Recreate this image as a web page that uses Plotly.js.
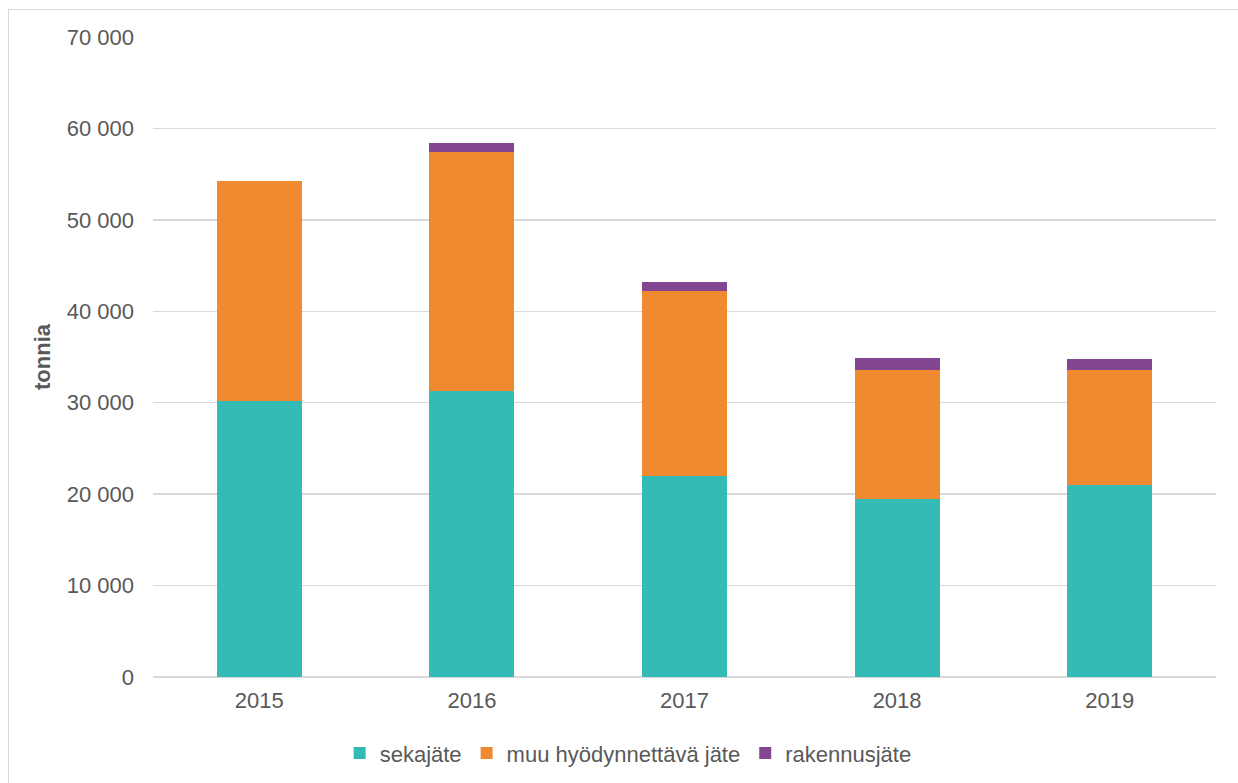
<!DOCTYPE html>
<html>
<head>
<meta charset="utf-8">
<script src="https://cdn.plot.ly/plotly-3.0.1.min.js"></script>
<style>
html,body{margin:0;padding:0;background:#fff;}
#wrap{position:relative;width:1238px;height:783px;}
#chart{width:1238px;height:783px;}
#frame{position:absolute;left:8px;top:9px;right:-5px;bottom:-5px;border-left:1.5px solid #d9d9d9;border-top:1.5px solid #d9d9d9;pointer-events:none;}
</style>
</head>
<body>
<div id="wrap"><div id="chart"></div><div id="frame"></div></div>
<script>
const years = ['2015', '2016', '2017', '2018', '2019'];
const sekajate = [30200, 31300, 21950, 19500, 20950];
const muuHyodynnettava = [24050, 26120, 20270, 14080, 12630];
const rakennusjate = [0, 990, 985, 1280, 1170];
const seriesNames = ['sekajäte', 'muu hyödynnettävä jäte', 'rakennusjäte'];
const colors = ['#34BBB5', '#F08A30', '#834692'];
const yTicks = [0, 10000, 20000, 30000, 40000, 50000, 60000, 70000];
const yTickText = ['0', '10 000', '20 000', '30 000', '40 000', '50 000', '60 000', '70 000'];

const values = [sekajate, muuHyodynnettava, rakennusjate];
const traces = values.map((v, i) => ({
  type: 'bar', x: years, y: v, name: seriesNames[i],
  marker: {color: colors[i], line: {width: 0}},
  hoverinfo: 'x+y+name'
}));

const layout = {
  width: 1238, height: 783,
  barmode: 'stack', bargap: 0.6,
  paper_bgcolor: '#fff', plot_bgcolor: '#fff',
  margin: {l: 153, r: 22, t: 37, b: 106, autoexpand: false},
  font: {family: 'Liberation Sans, Arial, sans-serif', color: '#595959', size: 22},
  xaxis: {
    type: 'category', showgrid: false, zeroline: false, showline: false,
    ticks: '', ticklabelstandoff: 8, tickfont: {size: 22, color: '#595959'}
  },
  yaxis: {
    range: [0, 70000], tickvals: yTicks, ticktext: yTickText,
    showgrid: true, gridcolor: '#d9d9d9', gridwidth: 1.3,
    zeroline: true, zerolinecolor: '#d9d9d9', zerolinewidth: 1.5,
    showline: false, ticks: '', ticklabelstandoff: 18,
    tickfont: {size: 22, color: '#595959'},
    title: {text: '<b>tonnia</b>', font: {size: 22, color: '#595959'}, standoff: 10}
  },
  legend: {
    orientation: 'h', xref: 'paper', x: 0.447, xanchor: 'center',
    yref: 'container', y: 0.038, yanchor: 'middle',
    font: {size: 22, color: '#595959'}, traceorder: 'normal',
    itemwidth: 30, itemclick: false
  },
  showlegend: true
};

Plotly.newPlot('chart', traces, layout, {displayModeBar: false, staticPlot: true});
</script>
</body>
</html>
